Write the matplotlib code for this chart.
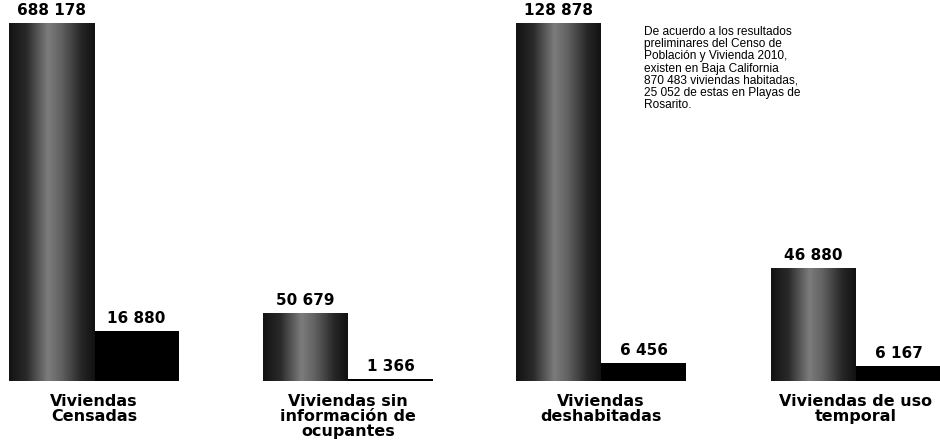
import numpy as np
import matplotlib
matplotlib.use('Agg')
import matplotlib.pyplot as plt
from matplotlib.colors import LinearSegmentedColormap

# valores del Censo 2010
categorias = ['Viviendas\nCensadas',
              'Viviendas sin\ninformación de\nocupantes',
              'Viviendas\ndeshabitadas',
              'Viviendas de uso\ntemporal']
baja_california = [688178, 50679, 128878, 46880]
playas_rosarito = [16880, 1366, 6456, 6167]

nota = ('De acuerdo a los resultados\n'
        'preliminares del Censo de\n'
        'Población y Vivienda 2010,\n'
        'existen en Baja California\n'
        '870 483 viviendas habitadas,\n'
        '25 052 de estas en Playas de\n'
        'Rosarito.')

# cada par de barras va a su propia escala, como en el original
tope_escala = [120900, 266800, 128878, 148500]
izq_px = [9, 263, 516, 771]

W, H = 940, 445
fig = plt.figure(figsize=(W / 100, H / 100), dpi=100)

cil = LinearSegmentedColormap.from_list(
    'cil', [(0, '#131313'), (0.2, '#2a2a2a'), (0.45, '#7c7c7c'),
            (0.6, '#646464'), (0.85, '#262626'), (1, '#121212')])
grad = np.linspace(0, 1, 64).reshape(1, -1)


def fmt(v):
    return f'{v:,}'.replace(',', ' ')


for i, cat in enumerate(categorias):
    ax = fig.add_axes([izq_px[i] / W, 64 / H, 170 / W, 358 / H])
    ax.set_xlim(-0.5, 1.5)
    ax.set_ylim(0, tope_escala[i])
    ax.axis('off')

    vals = [baja_california[i], playas_rosarito[i]]
    bars = ax.bar([0, 1], vals, width=1.0, color=['#333333', 'black'],
                  linewidth=0)
    # degradado tipo cilindro en la barra gris
    b = bars[0]
    h = min(b.get_height(), tope_escala[i])
    im = ax.imshow(grad, cmap=cil, aspect='auto',
                   extent=(b.get_x(), b.get_x() + b.get_width(), 0, h),
                   zorder=2)
    im.set_clip_path(b)

    for x, v in zip([0, 1], vals):
        ax.annotate(fmt(v), xy=(x, min(v, tope_escala[i])), xytext=(0, 3.5),
                    textcoords='offset points', ha='center', va='bottom',
                    fontsize=11, fontweight='bold', family='DejaVu Sans',
                    annotation_clip=False)

    ax.annotate(cat, xy=(0.5, 0), xytext=(0, -9.5), textcoords='offset points',
                ha='center', va='top', fontsize=11.5, fontweight='bold',
                family='DejaVu Sans', linespacing=1.0, annotation_clip=False)

fig.text(644 / W, 1 - 26 / H, nota, ha='left', va='top', fontsize=8.6,
         family='Liberation Sans', linespacing=1.02)

fig.savefig('out.png', dpi=100, facecolor='white')
